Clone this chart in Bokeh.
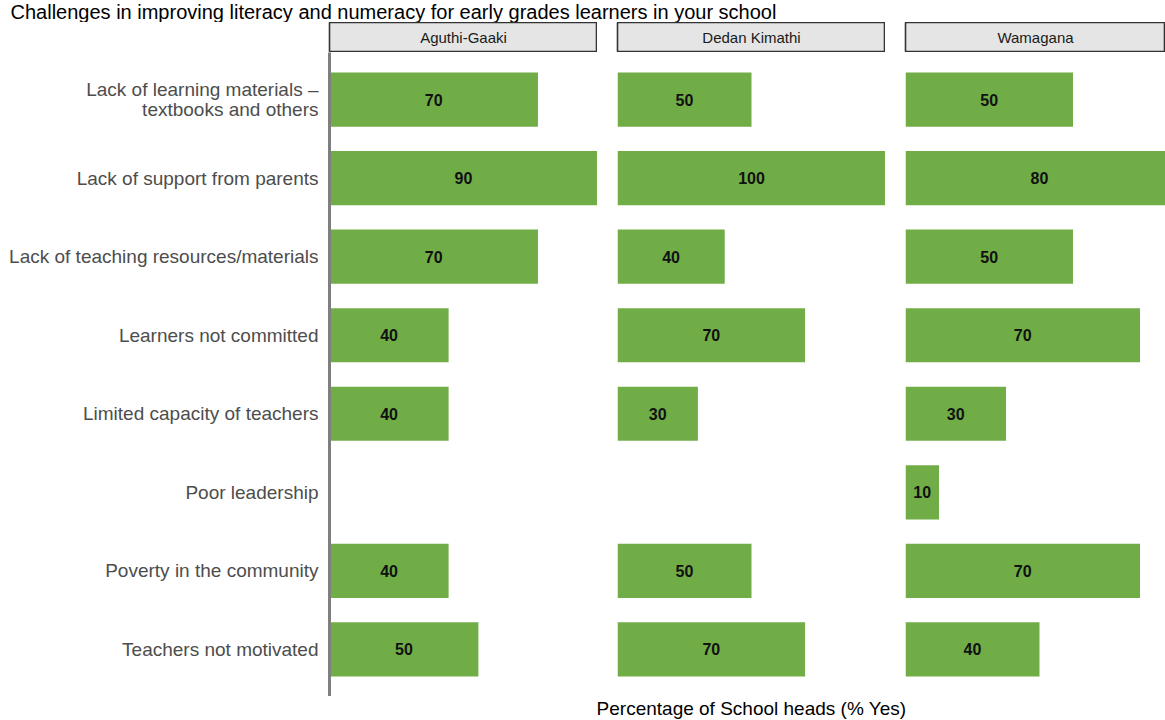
from bokeh.plotting import figure
from bokeh.layouts import column, row
from bokeh.models import Range1d, FixedTicker, Label, ColumnDataSource
from bokeh.core.properties import value
from bokeh.embed import file_html
from bokeh.resources import INLINE

TITLE = "Challenges in improving literacy and numeracy for early grades learners in your school"
X_LABEL = "Percentage of School heads (% Yes)"

categories = [
    "Lack of learning materials \u2013\ntextbooks and others",
    "Lack of support from parents",
    "Lack of teaching resources/materials",
    "Learners not committed",
    "Limited capacity of teachers",
    "Poor leadership",
    "Poverty in the community",
    "Teachers not motivated",
]
schools = ["Aguthi-Gaaki", "Dedan Kimathi", "Wamagana"]
aguthi_gaaki = [70, 90, 70, 40, 40, None, 40, 50]
dedan_kimathi = [50, 100, 40, 70, 30, None, 50, 70]
wamagana = [50, 80, 50, 70, 30, 10, 70, 40]
series = [aguthi_gaaki, dedan_kimathi, wamagana]

FONT = "Liberation Sans"
GREEN = "#70AD47"
N = len(categories)
PANEL_W = 268                 # full facet width
VISIBLE_W = [268, 268, 260]   # last facet cut by the page edge, as in the reference
LABEL_W = 326                 # width of the category-label column
LEFTS = [3, 20, 20]
TOTAL_W = LABEL_W + sum(l + w for l, w in zip(LEFTS, VISIBLE_W))
TITLE_H = 22
STRIP_H = 30
FH = 644
XLAB_H = 23
LINE_GAP = 20

y_range = Range1d(N - 0.4, -0.6)


def bare_fig(width, height, xr=None, yr=None, **kw):
    return figure(width=width, height=height,
                  x_range=xr if xr is not None else Range1d(0, 1),
                  y_range=yr if yr is not None else Range1d(0, 1),
                  x_axis_type=None, y_axis_type=None, toolbar_location=None,
                  output_backend="svg", **kw)


def make_title():
    f = bare_fig(TOTAL_W, TITLE_H, xr=Range1d(0, TOTAL_W), min_border=0, outline_line_color=None)
    f.add_layout(Label(x=10, y=0.5, text=TITLE, text_align="left",
                       text_baseline="middle", text_font=FONT,
                       text_font_size="20px", text_color="#000000"))
    return f


def make_strip(name, left, fw):
    f = bare_fig(left + fw, STRIP_H, min_border_left=left, min_border_right=0,
                 min_border_top=0, min_border_bottom=0,
                 background_fill_color="#E5E5E5", border_fill_color="white",
                 outline_line_color="#333333", outline_line_width=1.6)
    f.add_layout(Label(x=0.5, y=0.5, text=name, text_align="center", text_baseline="middle",
                       text_font=FONT, text_font_size="15px", text_color="#1A1A1A"))
    return f


def make_xlabel():
    f = bare_fig(TOTAL_W, XLAB_H, xr=Range1d(0, TOTAL_W), min_border=0, outline_line_color=None)
    mid_facet_centre = LABEL_W + LEFTS[0] + VISIBLE_W[0] + LEFTS[1] + PANEL_W / 2
    f.add_layout(Label(x=mid_facet_centre, y=0.5, text=X_LABEL, text_align="center",
                       text_baseline="middle", text_font=FONT, text_font_size="19px",
                       text_color="#000000"))
    return f


def make_labels():
    f = bare_fig(LABEL_W, FH, xr=Range1d(0, LABEL_W), yr=y_range, min_border=0,
                 outline_line_color=None)
    xs, ys, txt, offs = [], [], [], []
    for i, c in enumerate(categories):
        lines = c.split("\n")
        k = len(lines)
        for j, ln in enumerate(lines):
            xs.append(LABEL_W - 8)
            ys.append(i)
            txt.append(ln)
            offs.append((j - (k - 1) / 2) * LINE_GAP)
    src = ColumnDataSource(dict(x=xs, y=ys, t=txt, o=offs))
    f.text(x="x", y="y", text="t", y_offset="o", source=src, text_align="right",
           text_baseline="middle", text_font=value(FONT), text_font_size="19px",
           text_color="#4D4D4D")
    return f


def make_panel(vals, left, fw, axis_line):
    vmax = max(v for v in vals if v is not None)
    xend = vmax * fw / PANEL_W
    ys = [i for i, v in enumerate(vals) if v is not None]
    vs = [v for v in vals if v is not None]
    src = ColumnDataSource(dict(y=ys, v=vs, mid=[v / 2 for v in vs], lab=[str(v) for v in vs]))
    p = figure(frame_width=fw, frame_height=FH, x_range=Range1d(0, xend), y_range=y_range,
               min_border_left=left, min_border_right=0, min_border_top=0, min_border_bottom=0,
               toolbar_location=None, output_backend="svg", outline_line_color=None,
               background_fill_color="white", border_fill_color="white")
    p.xgrid.visible = False
    p.ygrid.visible = False
    p.xaxis.visible = False
    p.hbar(y="y", left=0, right="v", height=0.69, source=src, fill_color=GREEN, line_color=None)
    p.text(x="mid", y="y", text="lab", source=src, text_align="center", text_baseline="middle",
           text_font=value(FONT), text_font_style="bold", text_font_size="16px", text_color="#111111")
    if axis_line:
        ay = p.yaxis[0]
        ay.ticker = FixedTicker(ticks=[])
        ay.major_label_text_font_size = "0px"
        ay.major_label_standoff = 0
        ay.major_tick_out = 0
        ay.major_tick_in = 0
        ay.minor_tick_out = 0
        ay.minor_tick_in = 0
        ay.axis_line_color = "#7F7F7F"
        ay.axis_line_width = 3
    else:
        p.yaxis.visible = False
    return p


title_fig = make_title()
strips = [make_strip(s, l + (LABEL_W if i == 0 else 0), w)
          for i, (s, l, w) in enumerate(zip(schools, LEFTS, VISIBLE_W))]
label_fig = make_labels()
panels = [make_panel(vals, l, w, i == 0)
          for i, (vals, l, w) in enumerate(zip(series, LEFTS, VISIBLE_W))]
xlab_fig = make_xlabel()

layout = column(title_fig, row(*strips), row(label_fig, *panels), xlab_fig)
open("out.html", "w").write(file_html(layout, INLINE))
